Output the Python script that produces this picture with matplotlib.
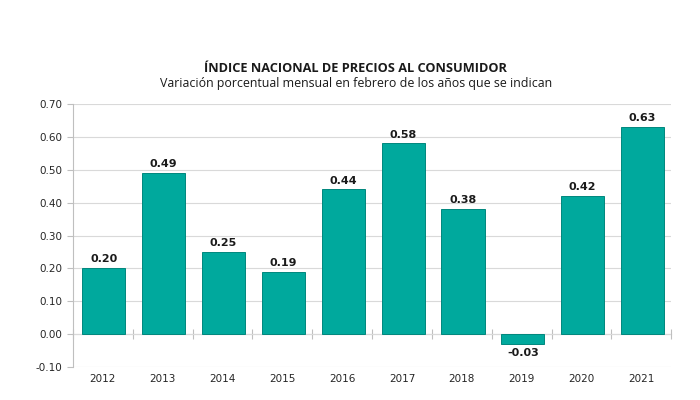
import matplotlib.pyplot as plt
import numpy as np

# data
years = ['2012', '2013', '2014', '2015', '2016', '2017', '2018', '2019', '2020', '2021']
values = [0.20, 0.49, 0.25, 0.19, 0.44, 0.58, 0.38, -0.03, 0.42, 0.63]
yticks = [-0.10, 0.00, 0.10, 0.20, 0.30, 0.40, 0.50, 0.60, 0.70]

bar_color = '#00A99D'
grid_color = '#D9D9D9'

fig = plt.figure(figsize=(7, 4), dpi=100)
ax = fig.add_axes([0.104, 0.0825, 0.855, 0.6575])

x = np.arange(len(years))
bars = ax.bar(x + 0.02, values, width=0.72, color=bar_color, edgecolor='#00877D', linewidth=0.7, zorder=3)

ax.set_xlim(-0.5, len(years) - 0.5)
ax.set_ylim(-0.10, 0.70)
ax.set_yticks(yticks)
ax.set_yticklabels(['%.2f' % t for t in yticks])
ax.yaxis.grid(True, color=grid_color, linewidth=0.8, zorder=0)

# category labels at the bottom
ax.set_xticks(x)
ax.set_xticklabels(years)
ax.tick_params(axis='x', length=0, pad=5, labelsize=7.5, colors='#262626')
ax.tick_params(axis='y', length=4, direction='out', color='#BFBFBF', labelsize=7.5, labelcolor='#262626')

for s in ['top', 'right', 'bottom']:
    ax.spines[s].set_visible(False)
ax.spines['left'].set_color('#BFBFBF')

# zero line with category separators
zero_ax = ax.secondary_xaxis(0.125)
zero_ax.set_xticks(np.arange(len(years) + 1) - 0.5)
zero_ax.tick_params(direction='inout', length=7, color='#BFBFBF', labelbottom=False)
zero_ax.spines['bottom'].set_color('#BFBFBF')

# value labels
for xi, v in zip(x, values):
    if v >= 0:
        ax.text(xi + 0.02, v + 0.012, '%.2f' % v, ha='center', va='bottom',
                fontsize=8, fontweight='bold', color='#1a1a1a')
    else:
        ax.text(xi + 0.02, v - 0.012, '%.2f' % v, ha='center', va='top',
                fontsize=8, fontweight='bold', color='#1a1a1a')

fig.text(0.508, 0.83, 'ÍNDICE NACIONAL DE PRECIOS AL CONSUMIDOR', ha='center', va='center',
         fontsize=9.2, fontweight='bold', family='Open Sans', color='#1a1a1a')
fig.text(0.508, 0.79, 'Variación porcentual mensual en febrero de los años que se indican', ha='center',
         va='center', fontsize=8.9, family='Open Sans', color='#1a1a1a')

plt.savefig('out.png', dpi=100)
